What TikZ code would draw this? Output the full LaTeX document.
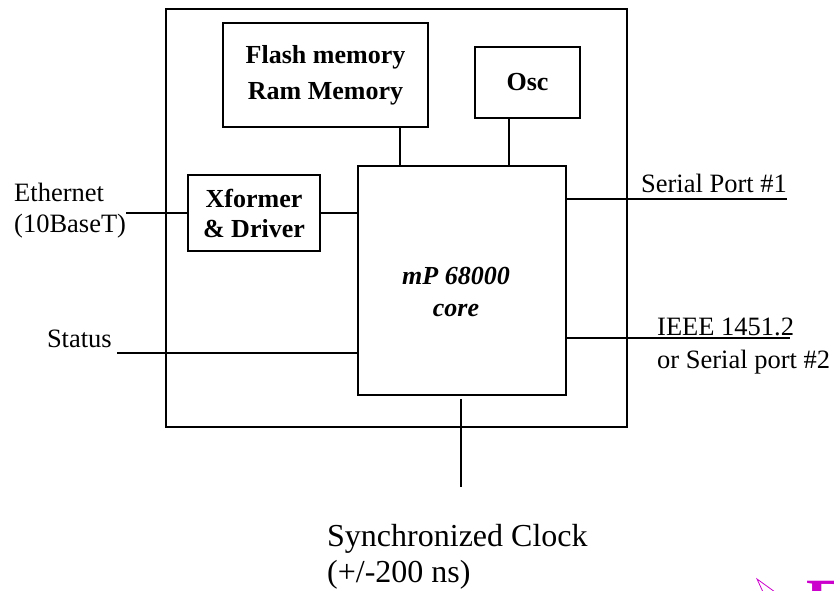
\documentclass[tikz,border=0pt]{standalone}
\usepackage{fontspec}
\setmainfont{Liberation Serif}
\definecolor{slidemag}{RGB}{204,0,204}

\begin{document}
\begin{tikzpicture}[x=1pt,y=-1pt,
    blk/.style={draw,line width=1.6pt,inner sep=0pt},
    wire/.style={line width=1.6pt},
    lbl/.style={inner sep=0pt,font=\fontsize{26.5}{31}\selectfont,align=left},
    blklbl/.style={font=\fontsize{26}{30}\selectfont\bfseries,align=center}]
    \clip (0,0) rectangle (834,590);

    % board
    \node[blk,minimum width=461pt,minimum height=418pt] (board) at (396.5,218) {};

    % flash / ram
    \node[blk,minimum width=205pt,minimum height=104pt,
          blklbl,font=\fontsize{26}{36}\selectfont\bfseries] (mem) at (325.5,75)
          {Flash memory\\Ram Memory};

    % oscillator
    \node[blk,minimum width=105pt,minimum height=71pt,blklbl] (osc) at (527.5,82.5) {Osc};

    % transformer and line driver
    \node[blk,minimum width=132pt,minimum height=76pt,blklbl] (xfmr) at (254,213) {Xformer\\\& Driver};

    % processor core
    \node[blk,minimum width=208pt,minimum height=229pt] (core) at (462,280.5) {};
    \node[blklbl,font=\fontsize{26}{32}\selectfont\bfseries\itshape] (corelbl) at (456,292) {mP 68000\\core};

    % internal links
    \draw[wire] ([xshift=74.5pt]mem.south) -- ([xshift=74.5pt]mem.south |- core.north);
    \draw[wire] ([xshift=-18.5pt]osc.south) -- ([xshift=-18.5pt]osc.south |- core.north);
    \draw[wire] (xfmr.east) -- (xfmr.east -| core.west);

    % ethernet
    \node[lbl,anchor=west] (ethlbl) at (14,211) {Ethernet\\(10BaseT)};
    \draw[wire] (ethlbl.east |- xfmr.west) -- (xfmr.west);

    % status
    \node[lbl,anchor=base east] (statlbl) at (112,347) {Status};
    \coordinate (statend) at (117,353);
    \draw[wire] (statend) -- (statend -| core.west);

    % serial ports
    \coordinate (ser1) at (787,199);
    \node[lbl,anchor=base east] (ser1lbl) at (787,192) {Serial Port \#1};
    \draw[wire] (ser1 -| core.east) -- (ser1);

    \coordinate (ser2) at (790,338);
    \node[lbl,anchor=west,font=\fontsize{26.5}{33}\selectfont] (ser2lbl) at (657,346) {IEEE 1451.2\\or Serial port \#2};
    \draw[wire] (ser2 -| core.east) -- (ser2);

    % clock input
    \coordinate (clk) at (461,487);
    \draw[wire] ([yshift=-3pt]core.south -| clk) -- (clk);
    \node[lbl,anchor=west,font=\fontsize{32}{36}\selectfont] (clklbl) at (327,557) {Synchronized Clock\\(+/-200 ns)};

    % slide remains
    \coordinate (tip) at (757,579);
    \draw[slidemag,line width=0.8pt] (763,592) -- (tip) -- (775,592);
    \node[anchor=north west,inner sep=0pt,text=slidemag,font=\fontsize{60}{60}\selectfont\bfseries] (ehead) at (806,581) {E};
\end{tikzpicture}
\end{document}
